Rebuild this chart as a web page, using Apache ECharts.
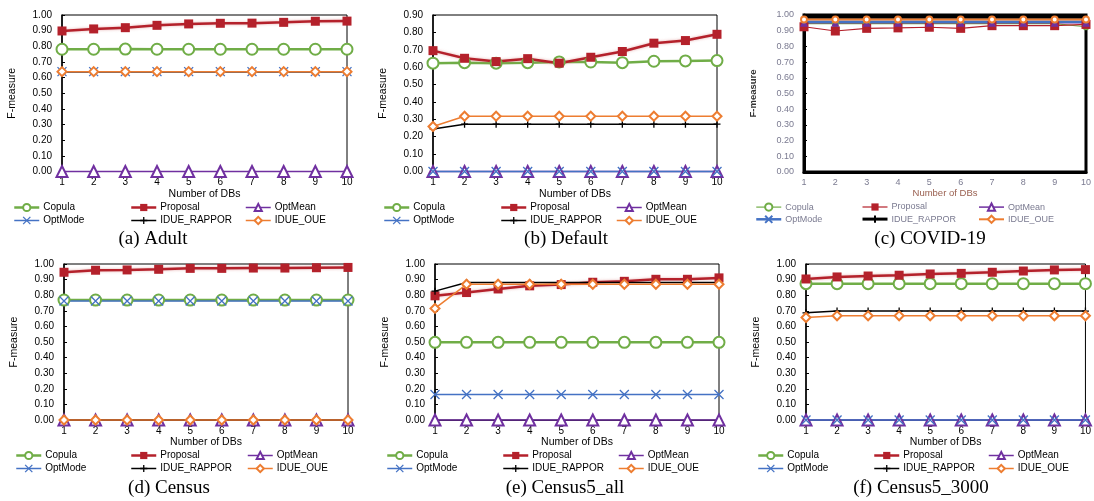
<!DOCTYPE html>
<html><head><meta charset="utf-8">
<script src="https://cdn.jsdelivr.net/npm/echarts@6/dist/echarts.min.js"></script>
<style>html,body{margin:0;padding:0;background:#fff}#c{width:1094px;height:501px}</style>
</head><body><div id="c"></div>
<script>
// ---------- data ----------
const xLabels = ['1','2','3','4','5','6','7','8','9','10'];
const seriesNames = ['Copula','Proposal','OptMean','OptMode','IDUE_RAPPOR','IDUE_OUE'];
const captions = ['(a) Adult','(b) Default','(c) COVID-19','(d) Census','(e) Census5_all','(f) Census5_3000'];
const yMaxes = [1.0, 0.9, 1.0, 1.0, 1.0, 1.0];

// (a) Adult
const adultCopula   = [0.781,0.781,0.782,0.781,0.781,0.781,0.781,0.781,0.781,0.781];
const adultProposal = [0.898,0.911,0.919,0.934,0.943,0.947,0.948,0.953,0.960,0.961];
const adultOptMean  = [0,0,0,0,0,0,0,0,0,0];
const adultOptMode  = [0.638,0.638,0.638,0.638,0.638,0.638,0.638,0.638,0.638,0.638];
const adultRappor   = [0.638,0.638,0.638,0.638,0.638,0.638,0.638,0.638,0.638,0.638];
const adultOue      = [0.638,0.638,0.638,0.638,0.638,0.638,0.638,0.638,0.638,0.638];
// (b) Default
const defaultCopula   = [0.623,0.626,0.623,0.626,0.630,0.630,0.626,0.634,0.636,0.638];
const defaultProposal = [0.695,0.651,0.632,0.649,0.623,0.657,0.690,0.738,0.753,0.789];
const defaultOptMean  = [0,0,0,0,0,0,0,0,0,0];
const defaultOptMode  = [0,0,0,0,0,0,0,0,0,0];
const defaultRappor   = [0.245,0.272,0.272,0.272,0.272,0.272,0.272,0.272,0.272,0.272];
const defaultOue      = [0.259,0.318,0.318,0.318,0.318,0.318,0.318,0.318,0.318,0.318];
// (c) COVID-19
const covidCopula   = [0.945,0.945,0.945,0.945,0.945,0.945,0.945,0.945,0.945,0.925];
const covidProposal = [0.925,0.898,0.915,0.918,0.922,0.915,0.932,0.932,0.932,0.940];
const covidOptMean  = [0.950,0.950,0.950,0.950,0.950,0.950,0.950,0.950,0.950,0.950];
const covidOptMode  = [0.957,0.957,0.957,0.957,0.957,0.957,0.957,0.957,0.957,0.957];
const covidRappor   = [0.985,0.985,0.985,0.985,0.985,0.985,0.985,0.985,0.985,0.985];
const covidOue      = [0.972,0.972,0.972,0.972,0.972,0.972,0.972,0.972,0.972,0.972];
// (d) Census
const censusCopula   = [0.769,0.769,0.769,0.769,0.769,0.769,0.769,0.769,0.769,0.769];
const censusProposal = [0.947,0.960,0.962,0.966,0.972,0.972,0.974,0.974,0.976,0.978];
const censusOptMean  = [0,0,0,0,0,0,0,0,0,0];
const censusOptMode  = [0.763,0.763,0.763,0.763,0.763,0.763,0.763,0.763,0.763,0.763];
const censusRappor   = [0,0,0,0,0,0,0,0,0,0];
const censusOue      = [0,0,0,0,0,0,0,0,0,0];
// (e) Census5_all
const c5allCopula   = [0.498,0.498,0.498,0.498,0.498,0.498,0.498,0.498,0.498,0.498];
const c5allProposal = [0.796,0.817,0.840,0.860,0.868,0.883,0.889,0.902,0.902,0.911];
const c5allOptMean  = [0,0,0,0,0,0,0,0,0,0];
const c5allOptMode  = [0.164,0.164,0.164,0.164,0.164,0.164,0.164,0.164,0.164,0.164];
const c5allRappor   = [0.826,0.881,0.881,0.881,0.881,0.881,0.881,0.881,0.881,0.881];
const c5allOue      = [0.715,0.870,0.870,0.870,0.870,0.870,0.870,0.870,0.870,0.870];
// (f) Census5_3000
const c53000Copula   = [0.874,0.874,0.874,0.874,0.874,0.874,0.874,0.874,0.874,0.874];
const c53000Proposal = [0.904,0.917,0.923,0.928,0.936,0.940,0.947,0.955,0.962,0.964];
const c53000OptMean  = [0,0,0,0,0,0,0,0,0,0];
const c53000OptMode  = [0,0,0,0,0,0,0,0,0,0];
const c53000Rappor   = [0.687,0.698,0.698,0.698,0.698,0.698,0.698,0.698,0.698,0.698];
const c53000Oue      = [0.657,0.668,0.668,0.668,0.668,0.668,0.668,0.668,0.668,0.668];

const panelData = [
  [adultCopula, adultProposal, adultOptMean, adultOptMode, adultRappor, adultOue],
  [defaultCopula, defaultProposal, defaultOptMean, defaultOptMode, defaultRappor, defaultOue],
  [covidCopula, covidProposal, covidOptMean, covidOptMode, covidRappor, covidOue],
  [censusCopula, censusProposal, censusOptMean, censusOptMode, censusRappor, censusOue],
  [c5allCopula, c5allProposal, c5allOptMean, c5allOptMode, c5allRappor, c5allOue],
  [c53000Copula, c53000Proposal, c53000OptMean, c53000OptMode, c53000Rappor, c53000Oue]
];

// ---------- layout / style ----------
const layout = [
  {l:62,  t:15,  w:285, h:156.5, capX:153, capY:230, legX:[13,130,245],  legY:202.5, nameGap:44},
  {l:433, t:15,  w:284, h:156.5, capX:566, capY:230, legX:[383,500,616], legY:202.5, nameGap:44},
  {l:804, t:15,  w:286, h:157,   capX:930, capY:230, legX:[755,861,978], legY:202.5, nameGap:46},
  {l:64,  t:264, w:284, h:156,   capX:169, capY:479, legX:[15,130,247],  legY:450.5, nameGap:44},
  {l:435, t:264, w:284, h:156,   capX:565, capY:479, legX:[386,502,618], legY:450.5, nameGap:44},
  {l:806, t:264, w:284, h:156,   capX:921, capY:479, legX:[757,873,988], legY:450.5, nameGap:44}
];
const FONT = 'Liberation Sans, Arial, sans-serif';
const X_PATH = 'path://M0,0L10,10M10,0L0,10';
const PLUS_PATH = 'path://M5,0L5,10M0,5L10,5';

const styles = [
  {color:'#70AD47', symbol:'emptyCircle', size:11, lw:2.5},
  {color:'#B4212B', symbol:'rect', size:9, lw:2.5, shadow:true},
  {color:'#7030A0', symbol:'emptyTriangle', size:11, lw:1.5},
  {color:'#4472C4', symbol:X_PATH, size:9, lw:1.5, stroke:true},
  {color:'#000000', symbol:PLUS_PATH, size:7, lw:1.5, stroke:true},
  {color:'#ED7D31', symbol:'emptyDiamond', size:9, lw:1.5}
];
const stylesC = [
  {color:'#70AD47', symbol:'emptyCircle', size:5, lw:1.2},
  {color:'#B4212B', symbol:'rect', size:9, lw:1.2},
  {color:'#7030A0', symbol:'triangle', size:8, lw:1.5},
  {color:'#4472C4', symbol:'circle', size:4, lw:2.5},
  {color:'#000000', symbol:'circle', size:4, lw:3},
  {color:'#ED7D31', symbol:'emptyCircle', size:6, lw:2}
];

const grids = [], xAxes = [], yAxes = [], series = [], legends = [], titles = [];
layout.forEach((p, i) => {
  const isC = i === 2;
  grids.push({left:p.l, top:p.t, width:p.w, height:p.h, show:true,
    borderColor:'#000', borderWidth: isC ? 3 : 1, containLabel:false});
  xAxes.push({type:'category', gridIndex:i, data:xLabels, boundaryGap:false,
    axisLine:{lineStyle:{color:'#000', width: isC ? 3 : 1}},
    axisTick:{show:false},
    axisLabel:{color: isC ? '#7a7a90' : '#000', fontSize: isC ? 9 : 10, fontFamily:FONT, margin:6},
    name:'Number of DBs', nameLocation:'middle', nameGap:15,
    nameTextStyle:{color: isC ? '#9a6050' : '#000', fontSize: isC ? 9.5 : 10.5, fontFamily:FONT}
  });
  yAxes.push({type:'value', gridIndex:i, min:0, max:yMaxes[i], interval:0.1,
    axisLine:{show:true, lineStyle:{color:'#000', width: isC ? 3 : 1.5}},
    axisTick:{show:true, inside:true, length:3, lineStyle:{color:'#000'}},
    splitLine:{show:false},
    axisLabel:{color: isC ? '#7a7a90' : '#000', fontSize: isC ? 9 : 10, fontFamily:FONT, margin:10,
      formatter: v => v.toFixed(2)},
    name:'F-measure', nameLocation:'middle', nameRotate:90, nameGap:p.nameGap,
    nameTextStyle:{color: isC ? '#333' : '#000', fontSize: isC ? 9.5 : 10.5, fontFamily:FONT, fontWeight: isC ? 'bold' : 'normal'}
  });
  const st = isC ? stylesC : styles;
  seriesNames.forEach((nm, k) => {
    const s = st[k];
    const itemStyle = {color:s.color};
    if (s.stroke) { itemStyle.color = s.color; itemStyle.borderColor = s.color; itemStyle.borderWidth = 1.3; }
    const lineStyle = {color:s.color, width:s.lw};
    if (s.shadow) { lineStyle.shadowColor = 'rgba(210,110,110,0.55)'; lineStyle.shadowBlur = 3; }
    series.push({type:'line', name:nm, xAxisIndex:i, yAxisIndex:i, data:panelData[i][k],
      symbol:s.symbol, symbolSize:s.size, showAllSymbol:true, clip:false,
      lineStyle, itemStyle, emphasis:{disabled:true}, animation:false});
  });
  // legends: 3 columns x 2 rows
  const cols = [[0,3],[1,4],[2,5]];
  cols.forEach((c, ci) => {
    legends.push({orient:'vertical', left:p.legX[ci], top:p.legY, padding:0,
      itemWidth:25, itemHeight:9, itemGap:3, selectedMode:false,
      textStyle:{fontSize: isC ? 9 : 10, fontFamily:FONT, color: isC ? '#7a7a90' : '#000', padding:[0,0,0,-1]},
      data: c.map(k => {
        const s = st[k];
        const d = {name:seriesNames[k], lineStyle:{color:s.color, width:s.lw}, itemStyle:{color:s.color}};
        if (s.stroke) { d.itemStyle.borderColor = s.color; d.itemStyle.borderWidth = 1.3; }
        return d;
      })
    });
  });
  titles.push({text:captions[i], left:p.capX, top:p.capY, textAlign:'center', padding:0,
    textStyle:{fontFamily:'Liberation Serif, Times New Roman, serif', fontSize:19, fontWeight:'normal', color:'#000'}});
});

const chart = echarts.init(document.getElementById('c'), null, {renderer:'canvas'});
chart.setOption({animation:false, backgroundColor:'#fff', title:titles, grid:grids,
  xAxis:xAxes, yAxis:yAxes, legend:legends, series:series});
</script>
</body></html>
